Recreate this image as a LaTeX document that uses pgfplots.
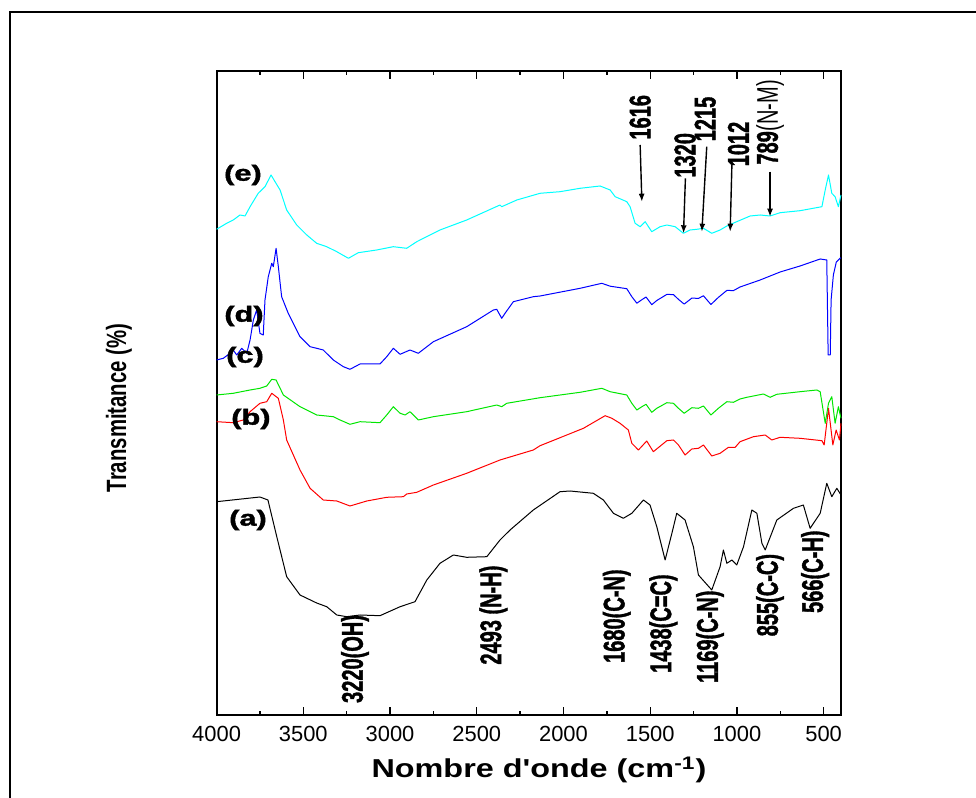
\documentclass[border=0pt]{standalone}
\usepackage{fontspec}
\setmainfont{Liberation Sans}
\newfontfamily\annfont{Liberation Sans}[FakeBold=1.6]
\usepackage{pgfplots}
\pgfplotsset{compat=1.18}
\usetikzlibrary{arrows.meta}

\definecolor{cy}{RGB}{0,255,255}
\definecolor{bl}{RGB}{0,0,255}
\definecolor{gr}{RGB}{0,230,0}
\definecolor{rd}{RGB}{255,0,0}

% narrow bold labels for the band assignments
\newcommand\ann[1]{\scalebox{0.67}[1]{#1}}
\newcommand\cl[1]{\scalebox{1.4}[1]{#1}}

\begin{document}
\begin{tikzpicture}
\useasboundingbox (0,0) rectangle (488bp,399bp);
% outer frame, cut at right and bottom like the scan
\draw[line width=0.8bp] (5bp,-10bp) -- (5bp,393bp) -- (500bp,393bp);

\begin{axis}[
  at={(108.3bp,41.5bp)}, anchor=south west,
  width=312.2bp, height=322bp, scale only axis,
  x dir=reverse,
  xmin=400, xmax=4000, ymin=0, ymax=644,
  xtick={500,1000,...,4000},
  minor xtick={750,1250,...,3750},
  ytick=\empty,
  minor ytick={40,80,...,640},
  major tick length=4bp, minor tick length=2bp,
  tick style={line width=0.7bp, black},
  axis line style={line width=1bp},
  /pgf/number format/1000 sep={},
  /pgf/number format/assume math mode=true,
  xticklabel style={font=\fontsize{11}{11}\selectfont, yshift=-2bp},
  clip=false,
  every axis plot/.append style={line width=0.5bp, line join=round},
]

% (a)
\addplot[black] coordinates {
(4000,213.3) (3750,218) (3704,215) (3653,178.3) (3596,138.3) (3519,120)
(3423,112) (3365,108.3) (3307,100) (3250,98.3) (3173,100) (3058,99.3)
(2942,108.3) (2856,113.3) (2788,135) (2712,151.7) (2635,160) (2558,157.7)
(2442,158.3) (2366,175) (2308,185) (2174,205) (2020,223.3) (1962,224)
(1828,221.7) (1770,215) (1712,201.7) (1655,196.7) (1606,201.7) (1539,215)
(1501,210) (1462,188.3) (1414,155) (1375,181.7) (1347,201.7) (1299,195)
(1251,168.3) (1222,140) (1145,125) (1097,148.3) (1078,165) (1058,151.7)
(1029,155) (1001,150) (962,168.3) (914,205) (885,201.7) (856,171.7)
(837,165) (770,195) (674,206.7) (617,210) (578,186.7) (520,201.7)
(482,231.7) (453,218.3) (424,226.7) (400,220)
};

% (b)
\addplot[rd] coordinates {
(4000,293.3) (3904,292.3) (3846,295) (3807,303.3) (3750,311.7) (3711,313.3)
(3682,321.7) (3644,316.7) (3615,295) (3596,275) (3519,245) (3461,226.7)
(3385,215) (3307,214) (3231,209) (3134,214) (3019,217.7) (2923,218.3)
(2904,221) (2846,222.7) (2750,230) (2558,241.7) (2366,255) (2174,265)
(2135,269.3) (1981,280) (1885,286.7) (1760,299.3) (1721,296.7) (1674,291.7)
(1626,285) (1606,271.7) (1568,265) (1520,274) (1482,263.3) (1404,274.3)
(1366,275) (1337,270) (1299,260) (1260,266) (1222,266.7) (1193,270)
(1145,259) (1097,261.7) (1049,267.7) (1010,267.7) (982,273.3) (905,278.3)
(837,280) (799,275) (751,277.7) (636,276.7) (510,274.3) (497,270)
(472,306.7) (447,270) (428,285) (409,275) (400,291.7)
};

% (c)
\addplot[gr] coordinates {
(4000,320) (3904,321.7) (3807,325) (3750,326.7) (3711,329) (3682,335.7)
(3657,335) (3615,320) (3519,308.3) (3423,300) (3327,298.3) (3288,295)
(3231,290.7) (3173,293.3) (3058,292.3) (3019,300) (2981,308.3) (2942,301.7)
(2913,300) (2885,303.3) (2837,295) (2750,298.3) (2558,303.3) (2385,310)
(2356,308.3) (2327,311.7) (2135,317.3) (1904,322.7) (1779,326.7) (1731,323.3)
(1635,320) (1606,311.7) (1577,305) (1548,308.3) (1524,310.7) (1491,302.7)
(1462,306.7) (1404,312.3) (1366,311.7) (1337,306.7) (1304,301.7) (1260,307.3)
(1222,306.7) (1193,309) (1150,300) (1107,306.7) (1058,313.3) (1020,312.7)
(982,316) (943,317.7) (847,321) (809,317.7) (770,320.7) (636,323.3)
(539,325) (520,323.3) (491,291.7) (472,311.7) (453,318.3) (434,291.7)
(415,308.3) (400,296.7)
};

% (d)
\addplot[bl] coordinates {
(4000,355) (3961,356.7) (3923,361.7) (3904,365) (3884,360) (3855,366.7)
(3826,361.7) (3807,375) (3788,395) (3769,405) (3750,381.7) (3731,380)
(3721,415) (3702,438.3) (3682,451.7) (3673,448.3) (3657,466.7) (3644,448.3)
(3625,418.3) (3606,410) (3587,401.7) (3558,391.7) (3519,378.3) (3461,368.3)
(3423,366.7) (3385,365) (3327,355) (3269,348.3) (3231,345.7) (3173,351)
(3058,351) (3019,358.3) (2981,366.7) (2942,360.7) (2885,365) (2837,361.7)
(2750,373.3) (2558,388.3) (2404,405) (2385,405.7) (2356,396.7) (2337,401.7)
(2289,413.3) (2174,418.3) (2135,419) (1904,426.7) (1779,431.7) (1731,428.8)
(1635,426.3) (1606,418.3) (1577,411.8) (1548,415.3) (1524,418) (1491,410.3)
(1462,414.5) (1404,420.6) (1366,420.4) (1337,415.6) (1304,410.9) (1260,416.9)
(1222,416.6) (1193,419.2) (1150,410.5) (1107,417.6) (1058,424.6) (1020,424.4)
(982,428) (866,435) (751,443) (636,449) (520,456) (482,455)
(474,360) (462,360) (457,415) (444,440) (427,453) (404,457) (400,457)
};

% (e)
\addplot[cy] coordinates {
(4000,485.7) (3942,491.7) (3904,495) (3865,500) (3836,499) (3807,508.3)
(3760,521.7) (3721,528.3) (3686,540) (3663,533.3) (3634,525) (3596,505)
(3538,490) (3480,480) (3423,471.7) (3365,468.3) (3307,463.3) (3240,456.7)
(3183,462.3) (3077,465) (2981,468.3) (2904,466.7) (2846,473.3) (2712,485)
(2558,495) (2366,510) (2356,508.3) (2269,515) (2135,521.7) (2020,523.3)
(1904,526.7) (1789,529) (1731,525) (1702,518.3) (1635,513.3) (1616,508.3)
(1587,491.7) (1558,488.3) (1529,493.3) (1491,483.3) (1443,488.3) (1404,490)
(1356,488.3) (1309,481.7) (1270,485) (1231,485.7) (1193,486.7) (1145,481.7)
(1097,485) (1058,489) (1001,493.3) (924,499) (866,500) (809,499)
(751,502.3) (636,504.3) (510,508.3) (491,525) (472,540) (453,521.7)
(434,518.3) (415,508.3) (400,520)
};

% curve letters
\begin{scope}[every node/.style={font=\fontsize{11}{11}\selectfont\annfont\bfseries, inner sep=0pt}]
\node at (axis cs:3848,540) {\cl{(e)}};
\node at (axis cs:3842,399) {\cl{(d)}};
\node at (axis cs:3836,358) {\cl{(c)}};
\node at (axis cs:3802,296) {\cl{(b)}};
\node at (axis cs:3819,195) {\cl{(a)}};
\end{scope}

% band assignments
\begin{scope}[every node/.style={font=\fontsize{15}{15}\selectfont\annfont\bfseries, rotate=90, anchor=west, inner sep=0pt}]
\node at (axis cs:3202,11.7) {\ann{3220(OH)}};
\node at (axis cs:2404,50) {\ann{2493 (N-H)}};
\node at (axis cs:1693,51.7) {\ann{1680(C-N)}};
\node at (axis cs:1424,41.7) {\ann{1438(C=C)}};
\node at (axis cs:1155,31.7) {\ann{1169(C-N)}};
\node at (axis cs:809,78.3) {\ann{855(C-C)}};
\node at (axis cs:549,101.7) {\ann{566(C-H)}};
\node at (axis cs:1558,575) {\ann{1616}};
\node at (axis cs:1299,537) {\ann{1320}};
\node at (axis cs:1183,573.3) {\ann{1215}};
\node at (axis cs:991,548.3) {\ann{1012}};
\node at (axis cs:809,550) {\ann{789{\rmfamily\mdseries(N-M)}}};
\end{scope}

\begin{scope}[line width=0.7bp, -{Latex[length=4bp,width=3bp]}]
\draw (axis cs:1558,570) -- (axis cs:1548,513.3);
\draw (axis cs:1297,536.7) -- (axis cs:1308,481.7);
\draw (axis cs:1174,568.3) -- (axis cs:1202,483.3);
\draw (axis cs:1029,550) -- (axis cs:1039,483.3);
\draw (axis cs:809,543.3) -- (axis cs:809,498.3);
\end{scope}
\end{axis}

% axis titles
\node[font=\fontsize{13}{13}\selectfont\bfseries] at (269.5bp,14bp)
  {\scalebox{1.25}[1]{Nombre d\textquotesingle onde (cm\textsuperscript{-1})}};
\node[font=\fontsize{14}{14}\selectfont\bfseries, rotate=90] at (59.5bp,195bp)
  {\scalebox{0.73}[1]{Transmitance (\%)}};
\end{tikzpicture}
\end{document}
